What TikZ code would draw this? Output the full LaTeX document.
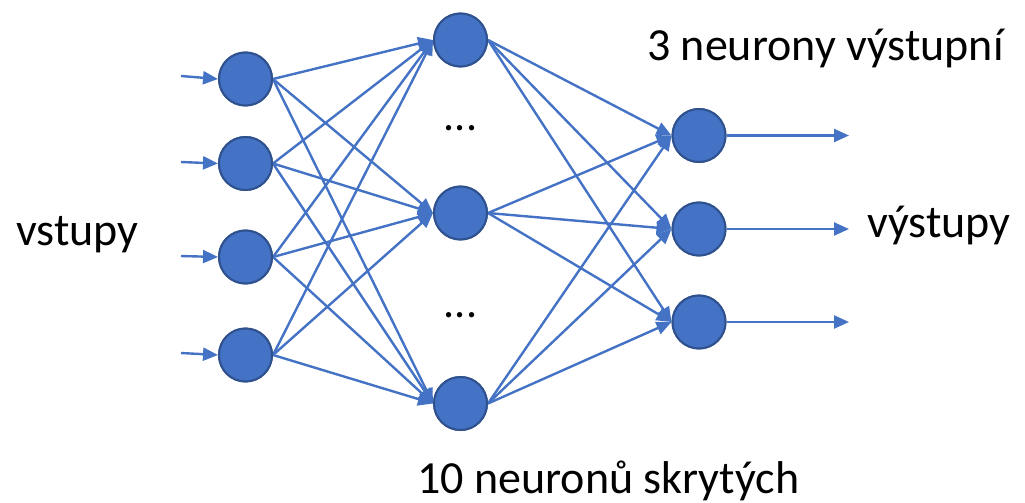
\documentclass[tikz,border=0pt]{standalone}
\usepackage{fontspec}
\setmainfont{Carlito}
\usetikzlibrary{arrows.meta}
\definecolor{nfill}{HTML}{4472C4}
\definecolor{nborder}{HTML}{2F528F}
\tikzset{
  neuron/.style={circle, fill=nfill, draw=nborder, line width=2pt, minimum size=53pt, inner sep=0pt},
  conn/.style={draw=nfill, line width=2.4pt, -{Triangle[length=15pt,width=13pt]}},
  lbl/.style={font=\fontsize{46}{50}\selectfont, inner sep=0pt, anchor=base west},
  dots/.style={font=\fontsize{44}{46}\selectfont, inner sep=0pt, anchor=base}
}
\begin{document}
\begin{tikzpicture}[x=1pt,y=-1pt]
\useasboundingbox (0,0) rectangle (1025,503);
% input layer
\node[neuron] (i1) at (245.5,79) {};
\node[neuron] (i2) at (245.5,163.5) {};
\node[neuron] (i3) at (245.5,257) {};
\node[neuron] (i4) at (245.5,355) {};
% hidden layer
\node[neuron] (h1) at (460.5,40) {};
\node[neuron] (h2) at (460.5,213) {};
\node[neuron] (h3) at (460.5,403.5) {};
% output layer
\node[neuron] (o1) at (699,135.5) {};
\node[neuron] (o2) at (699,229) {};
\node[neuron] (o3) at (699,322) {};
% input arrow starts
\coordinate (s1) at (181,76);
\coordinate (s2) at (181,162);
\coordinate (s3) at (181,256);
\coordinate (s4) at (181,353);
% output arrow ends
\coordinate (e1) at (849,135.5);
\coordinate (e2) at (849,229);
\coordinate (e3) at (849,322);
\foreach \k in {1,...,4} \draw[conn] (s\k) -- (i\k.west);
\foreach \i in {1,...,4} \foreach \h in {1,2,3} \draw[conn] (i\i.east) -- (h\h.west);
\foreach \h in {1,2,3} \foreach \o in {1,2,3} \draw[conn] (h\h.east) -- (o\o.west);
\foreach \o in {1,2,3} \draw[conn] (o\o.east) -- (e\o);
% redraw neurons above connectors
\foreach \n in {i1,i2,i3,i4,h1,h2,h3,o1,o2,o3} \node[neuron] at (\n) {};
% dots
\node[dots] (d1) at (460.5,130) {...};
\node[dots] (d2) at (460.5,317) {...};
% labels
\node[lbl] (tin) at (16,245) {vstupy};
\node[lbl] (tout) at (867,237) {výstupy};
\node[lbl] (tol) at (647,60) {3 neurony výstupní};
\node[lbl] (thl) at (417,493) {10 neuronů skrytých};
\end{tikzpicture}
\end{document}
